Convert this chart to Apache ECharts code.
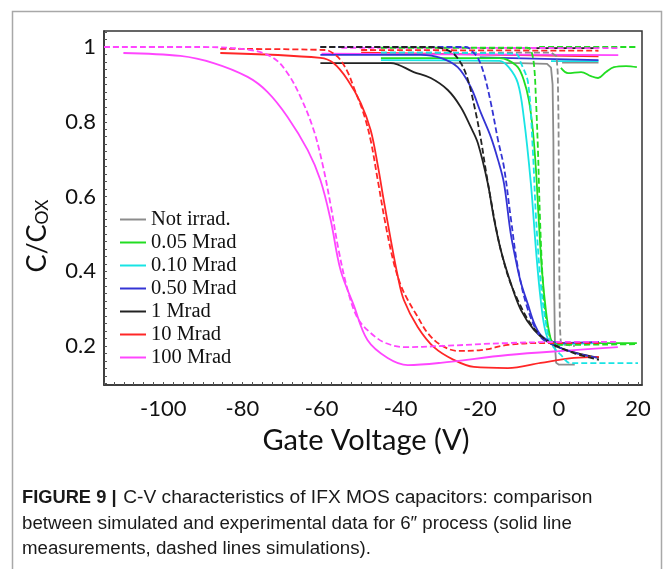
<!DOCTYPE html>
<html><head><meta charset="utf-8">
<script src="https://cdn.jsdelivr.net/npm/echarts@6/dist/echarts.min.js"></script>
<style>html,body{margin:0;padding:0;background:#fff}#c{width:665px;height:569px}</style>
</head><body><div id="c"></div>
<script>
// ---- tick labels ----
const xTicks = [-100, -80, -60, -40, -20, 0, 20];
const yTicks = [0.2, 0.4, 0.6, 0.8, 1];
// ---- legend names ----
const names = ['Not irrad.', '0.05 Mrad', '0.10 Mrad', '0.50 Mrad', '1 Mrad', '10 Mrad', '100 Mrad'];
// ---- measurements (solid) and simulations (dashed): [gate voltage V, C/Cox] ----
const notIrradMeas = [[-45,0.957],[-10,0.957],[-3,0.955],[-2,0.945],[-1.6,0.9],[-1.4,0.75],[-1.3,0.55],[-1.2,0.35],[-1.0,0.2],[-0.7,0.155],[0,0.15],[4,0.15]];
const notIrradSim = [[-45,0.985],[-2,0.985],[-0.6,0.975],[-0.3,0.93],[-0.1,0.8],[0,0.6],[0.1,0.4],[0.25,0.25],[0.5,0.205],[1,0.2],[4,0.2]];
const notIrradMeasTop = [[0.8,0.958],[10,0.958]];

const m005Meas = [[-45,0.97],[-15,0.97],[-12.9,0.965],[-10.4,0.946],[-8.9,0.912],[-7.6,0.858],[-6.6,0.778],[-5.8,0.671],[-5.1,0.537],[-4.3,0.403],[-3.3,0.296],[-2.3,0.229],[-1.3,0.208],[5.6,0.208],[19.7,0.208]];
const m005Sim = [[-45,0.998],[-8,0.998],[-7.1,0.992],[-6.3,0.952],[-5.8,0.858],[-5.3,0.724],[-4.8,0.545],[-4.1,0.377],[-3.3,0.278],[-2,0.216],[-0.3,0.203],[20,0.205]];
const m005MeasTop = [[0.5,0.944],[2.3,0.93],[5.6,0.933],[8.1,0.922],[9.9,0.917],[11.9,0.933],[13.9,0.946],[17,0.949],[19.7,0.946]];
const m005SimTop = [[-5,1.0],[20,1.0]];

const m010Meas = [[-45,0.965],[-15,0.963],[-12.7,0.946],[-10.4,0.904],[-8.9,0.813],[-7.1,0.636],[-5.8,0.457],[-4.6,0.323],[-3.3,0.235],[-1.5,0.203],[2,0.205],[10,0.208]];
const m010Sim = [[-45,0.985],[-11,0.982],[-9.6,0.957],[-7.8,0.904],[-6.6,0.724],[-5.8,0.545],[-4.6,0.369],[-3.3,0.262],[-2,0.208],[0.5,0.176],[3,0.154],[20,0.154]];
const m010MeasTop = [[-2,0.962],[10,0.962]];

const m050Meas = [[-60.3,0.979],[-34.9,0.979],[-29.9,0.971],[-25.6,0.946],[-22.3,0.893],[-19.7,0.823],[-17.2,0.759],[-15.4,0.698],[-13.9,0.636],[-12.2,0.502],[-10.9,0.43],[-9.6,0.369],[-7.8,0.31],[-6.3,0.262],[-4.6,0.229],[-2.8,0.216],[0.5,0.208],[10.1,0.211]];
const m050Sim = [[-60.3,1.0],[-23.5,1.0],[-21.8,0.987],[-20.5,0.971],[-19.0,0.93],[-17.2,0.85],[-15.4,0.751],[-13.9,0.679],[-12.2,0.545],[-10.4,0.411],[-7.8,0.296],[-4.6,0.224],[-1.3,0.203],[4.3,0.181],[10.1,0.168]];
const m050MeasTop = [[-20,0.972],[10,0.965]];

const m1Meas = [[-60.3,0.957],[-42.5,0.957],[-36.7,0.933],[-32.4,0.917],[-28.1,0.885],[-24.8,0.839],[-22.3,0.786],[-20.5,0.743],[-18.0,0.636],[-16.5,0.545],[-14.7,0.457],[-12.2,0.369],[-9.6,0.296],[-6.3,0.243],[-2.8,0.211],[1.8,0.189],[10.1,0.168]];
const m1Sim = [[-60.3,1.0],[-32.4,1.0],[-27.3,0.987],[-24.8,0.957],[-23.0,0.912],[-21.0,0.823],[-19.7,0.751],[-18.5,0.671],[-17.2,0.591],[-15.9,0.516],[-14.7,0.457],[-12.7,0.382],[-10.4,0.323],[-7.8,0.27],[-5.3,0.235],[-2.0,0.208],[3.8,0.181],[10.1,0.163]];
const m1SimTop = [[-20,0.997],[10,0.997]];

const m10Meas = [[-85.6,0.984],[-60.3,0.971],[-57.0,0.957],[-53.4,0.912],[-50.1,0.85],[-47.6,0.778],[-45.8,0.684],[-44.3,0.591],[-42.5,0.484],[-40.8,0.39],[-39.2,0.323],[-35.7,0.251],[-31.6,0.197],[-26.6,0.163],[-21.5,0.144],[-12.9,0.141],[-4.6,0.155],[3.8,0.168],[10.1,0.171]];
const m10Sim = [[-85.6,0.995],[-59,0.992],[-56.5,0.979],[-55.2,0.965],[-53.4,0.933],[-51.9,0.893],[-49.4,0.823],[-47.6,0.751],[-45.8,0.644],[-43.8,0.524],[-41.8,0.425],[-40.0,0.363],[-38.2,0.323],[-35.7,0.278],[-33.2,0.235],[-29.9,0.203],[-25.6,0.187],[-19.7,0.189],[-12.9,0.203],[-4.6,0.208],[10.6,0.208]];
const m10MeasTop = [[-50,0.985],[10,0.975]];
const m10SimTop = [[-50,0.992],[10,0.99]];

const m100Meas = [[-110.1,0.984],[-95.7,0.976],[-87.3,0.957],[-78.7,0.92],[-73.7,0.88],[-68.6,0.813],[-63.5,0.724],[-60.3,0.644],[-57.7,0.537],[-55.2,0.403],[-51.9,0.31],[-48.4,0.216],[-43.3,0.168],[-38.2,0.149],[-29.9,0.155],[-12.9,0.176],[3.8,0.189],[14.9,0.197]];
const m100Sim = [[-115,1.0],[-90.6,1.0],[-78,0.992],[-72.2,0.971],[-68.6,0.93],[-65.3,0.866],[-62.0,0.778],[-59.7,0.684],[-57.7,0.577],[-55.7,0.457],[-53.4,0.35],[-50.9,0.275],[-47.6,0.235],[-43.8,0.208],[-38.7,0.197],[-29.9,0.2],[-12.9,0.208],[3.8,0.211],[14.9,0.211]];
const m100MeasTop = [[-60,0.982],[15,0.978]];
const m100SimTop = [[-55,0.998],[15,0.997]];

const colors = ['#8c8c8c', '#22dd22', '#18e4e4', '#3434d4', '#222222', '#ff2626', '#ff46ff'];

function ln(i, data, dashed, z, sm) {
  return {
    type: 'line', name: names[i], data: data, showSymbol: false, symbol: 'none',
    smooth: sm === undefined ? 0.35 : sm, clip: true, z: z || 2,
    itemStyle: { color: colors[i] },
    lineStyle: { color: colors[i], width: 1.8, type: dashed ? [6, 3] : 'solid' },
    emphasis: { disabled: true }, silent: true
  };
}

const series = [
  ln(0, notIrradMeas, false, 2, 0), ln(1, m005Meas, false), ln(2, m010Meas, false), ln(3, m050Meas, false),
  ln(4, m1Meas, false), ln(5, m10Meas, false), ln(6, m100Meas, false),
  ln(0, notIrradSim, true, 2, 0), ln(1, m005Sim, true), ln(2, m010Sim, true), ln(3, m050Sim, true),
  ln(4, m1Sim, true), ln(5, m10Sim, true), ln(6, m100Sim, true),
  ln(0, notIrradMeasTop, false, 1), ln(1, m005MeasTop, false, 1), ln(1, m005SimTop, true, 1),
  ln(2, m010MeasTop, false, 1), ln(3, m050MeasTop, false, 1), ln(4, m1SimTop, true, 1),
  ln(5, m10MeasTop, false, 1), ln(5, m10SimTop, true, 1), ln(6, m100MeasTop, false, 1), ln(6, m100SimTop, true, 1)
];

const xMinor = [];
for (let v = -115; v <= 21; v += 2.5) xMinor.push(Math.round(v * 10) / 10);
const yMinor = [];
for (let k = 5; k <= 52; k++) yMinor.push(Math.round(k * 0.02 * 1000) / 1000);

const chart = echarts.init(document.getElementById('c'), null, { renderer: 'canvas' });
chart.setOption({
  animation: false,
  backgroundColor: '#fff',
  grid: { left: 104, right: 23, top: 31, bottom: 184, show: true, borderColor: '#333', borderWidth: 1.5, backgroundColor: 'transparent' },
  xAxis: {
    type: 'value', min: -115, max: 21,
    axisLine: { show: true, onZero: false, lineStyle: { color: '#333', width: 1.5 } },
    splitLine: { show: false },
    axisTick: { show: true, inside: true, length: 3, customValues: xMinor, lineStyle: { color: '#555', width: 1 } },
    axisLabel: { customValues: xTicks, fontFamily: 'Lato', fontSize: 22, color: '#111', margin: 13 }
  },
  yAxis: {
    type: 'value', min: 0.0957, max: 1.0428,
    axisLine: { show: true, onZero: false, lineStyle: { color: '#333', width: 1.5 } },
    splitLine: { show: false },
    axisTick: { show: true, inside: true, length: 3, customValues: yMinor, lineStyle: { color: '#555', width: 1 } },
    axisLabel: { customValues: yTicks, fontFamily: 'Lato', fontSize: 22, color: '#111', margin: 8,
      formatter: v => (Math.abs(v - 1) < 1e-9 ? '1' : v.toFixed(1)) }
  },
  legend: {
    data: names, orient: 'vertical', left: 120, top: 209, padding: 0,
    icon: 'rect', itemWidth: 26, itemHeight: 2, itemGap: 2,
    textStyle: { fontFamily: 'Liberation Serif', fontSize: 20.5, lineHeight: 20.5, color: '#111' },
    selectedMode: false
  },
  graphic: [
    { type: 'polyline', silent: true, shape: { points: [[12.5, 569], [12.5, 11.5], [661.5, 11.5], [661.5, 569]] },
      style: { stroke: '#a8a8a8', lineWidth: 1.5, fill: null } },
    { type: 'text', x: 36, y: 236, rotation: Math.PI / 2, silent: true,
      style: { text: '{a|C/C}{b|OX}', align: 'center', verticalAlign: 'middle', fill: '#111',
        rich: { a: { fontFamily: 'Lato', fontSize: 27, fill: '#111', lineHeight: 30, verticalAlign: 'bottom' },
                b: { fontFamily: 'Lato', fontSize: 17.5, fill: '#111', lineHeight: 30, verticalAlign: 'bottom', padding: [11, 0, 0, 0] } } } },
    { type: 'text', x: 366, y: 441, silent: true,
      style: { text: 'Gate Voltage (V)', fontFamily: 'Lato', fontSize: 29, fill: '#111', align: 'center', verticalAlign: 'middle' } },
    { type: 'text', x: 22, y: 498, silent: true,
      style: { text: '{b|FIGURE 9 |}  {n|C-V characteristics of IFX MOS capacitors: comparison}', verticalAlign: 'middle', align: 'left',
        rich: { b: { fontFamily: 'Liberation Sans', fontWeight: 'bold', fontSize: 18.3, fill: '#1a1a1a' },
                n: { fontFamily: 'Liberation Sans', fontSize: 19.2, fill: '#1a1a1a' } } } },
    { type: 'text', x: 22, y: 524, silent: true,
      style: { text: 'between simulated and experimental data for 6\u2033 process (solid line', fontFamily: 'Liberation Sans', fontSize: 18.7, fill: '#1a1a1a', align: 'left', verticalAlign: 'middle' } },
    { type: 'text', x: 22, y: 549, silent: true,
      style: { text: 'measurements, dashed lines simulations).', fontFamily: 'Liberation Sans', fontSize: 18.7, fill: '#1a1a1a', align: 'left', verticalAlign: 'middle' } }
  ],
  series: series
});
</script>
</body></html>
